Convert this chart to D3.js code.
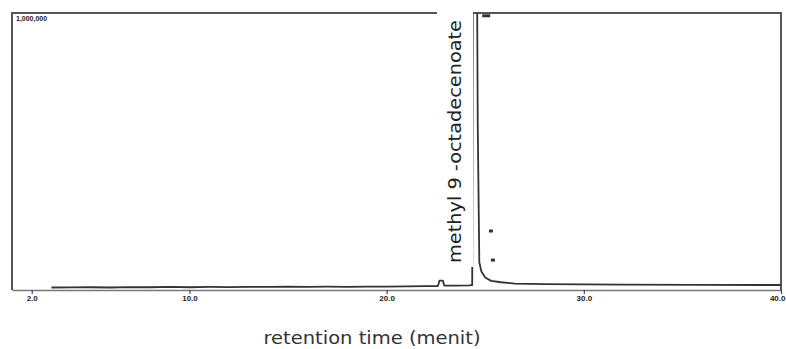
<!DOCTYPE html>
<html>
<head>
<meta charset="utf-8">
<script src="https://cdn.jsdelivr.net/npm/d3@7/dist/d3.min.js"></script>
<style>
  html, body { margin: 0; padding: 0; background: #fff; }
  svg { display: block; }
</style>
</head>
<body>
<svg id="chart" width="786" height="349"></svg>
<script>
// Chromatogram trace: retention time (minutes) and detector signal
const timeMin = [3.0, 4.0, 5.0, 6.0, 7.0, 8.0, 9.0, 10.0, 11.0, 12.0, 13.0, 14.0, 15.0, 16.0,
  17.0, 18.0, 19.0, 20.0, 21.0, 22.0, 22.6, 22.68, 22.85, 22.92, 23.5, 24.2, 24.34,
  24.38, 24.56, 24.62, 24.7, 24.8, 25.0, 25.3, 25.8, 26.5, 28.0, 32.0, 36.0, 40.0];
const signal = [9000, 9500, 10000, 9000, 10500, 10000, 11000, 10000, 11000, 10500, 11500, 11000, 12000, 11000,
  12000, 11500, 12500, 12000, 13000, 14000, 14000, 34000, 34000, 16000, 16000, 17000, 18000,
  1500000, 1500000, 600000, 100000, 68000, 45000, 33000, 28000, 23000, 21000, 19500, 18500, 18000];

// Small peak markers
const markerTime = [25.05, 25.29, 25.39];
const markerSignal = [990000, 213000, 108000];
const markerWidth = [8, 4, 4];

// Axis ticks
const tickValues = [2, 10, 20, 30, 40];
const tickLabels = ["2.0", "10.0", "20.0", "30.0", "40.0"];

const peakLabel = "methyl 9 -octadecenoate";
const peakTime = 24.38;
const scaleLabel = "1,000,000";
const xTitle = "retention time (menit)";

const svg = d3.select("#chart");
const frame = { left: 12, right: 781, top: 13, bottom: 290 };

const x = d3.scaleLinear().domain([1, 40]).range([frame.left, frame.right]);
const y = d3.scaleLinear().domain([0, 1000000]).range([frame.bottom, frame.top]);

svg.append("clipPath").attr("id", "plot-clip")
  .append("rect")
  .attr("x", frame.left).attr("y", frame.top)
  .attr("width", frame.right - frame.left).attr("height", frame.bottom - frame.top);

// Bottom axis with ticks
const xAxis = d3.axisBottom(x)
  .tickValues(tickValues)
  .tickFormat((d, i) => tickLabels[i])
  .tickSize(4)
  .tickSizeOuter(0);

const axisG = svg.append("g")
  .attr("transform", `translate(0,${frame.bottom})`)
  .call(xAxis);
axisG.select(".domain").attr("stroke", "#777").attr("stroke-width", 1.4);
axisG.selectAll(".tick line").attr("stroke", "#444").attr("stroke-width", 1.2);
axisG.selectAll(".tick text")
  .attr("fill", "#222")
  .attr("font-family", "Liberation Sans, Arial, sans-serif")
  .attr("font-weight", "bold")
  .attr("font-size", 8)
  .attr("dy", "0.5em");
// the last label sits against the right edge of the page
axisG.selectAll(".tick text")
  .filter((d, i, n) => i === n.length - 1)
  .attr("text-anchor", "end")
  .attr("x", 4);

// Frame top, left and right edges
svg.append("path")
  .attr("d", `M${frame.left},${frame.bottom} V${frame.top} H${frame.right} V${frame.bottom}`)
  .attr("fill", "none")
  .attr("stroke", "#555")
  .attr("stroke-width", 2);

// Trace
const line = d3.line()
  .x((d, i) => x(timeMin[i]))
  .y((d, i) => y(signal[i]));

svg.append("path")
  .datum(signal)
  .attr("clip-path", "url(#plot-clip)")
  .attr("d", line)
  .attr("fill", "none")
  .attr("stroke", "#333")
  .attr("stroke-width", 1.8)
  .attr("stroke-linejoin", "round");

// Peak markers
svg.append("g").selectAll("rect")
  .data(markerTime)
  .join("rect")
  .attr("x", (d, i) => x(d) - markerWidth[i] / 2)
  .attr("y", (d, i) => y(markerSignal[i]) - 1.5)
  .attr("width", (d, i) => markerWidth[i])
  .attr("height", 3)
  .attr("fill", "#333");

// Peak label, rotated, on a white band
const labelX = x(peakTime) - 18;
const labelG = svg.append("g")
  .attr("transform", `translate(${labelX},${frame.top + 4}) rotate(-90)`);
labelG.append("rect")
  .attr("x", -250).attr("y", -18)
  .attr("width", 258).attr("height", 36)
  .attr("fill", "#fff");
labelG.append("text")
  .attr("x", -3)
  .attr("y", 0)
  .attr("dy", "0.35em")
  .attr("text-anchor", "end")
  .attr("font-family", "DejaVu Sans, Verdana, sans-serif")
  .attr("font-size", 17.5)
  .attr("fill", "#222")
  .attr("textLength", 243)
  .attr("lengthAdjust", "spacingAndGlyphs")
  .text(peakLabel);

// Full-scale label in the corner
svg.append("text")
  .attr("x", frame.left + 4)
  .attr("y", frame.top + 8)
  .attr("font-family", "Liberation Sans, Arial, sans-serif")
  .attr("font-weight", "bold")
  .attr("font-size", 7)
  .attr("fill", "#222")
  .text(scaleLabel);

// Axis title
svg.append("text")
  .attr("x", 372)
  .attr("y", 344)
  .attr("text-anchor", "middle")
  .attr("font-family", "DejaVu Sans, Verdana, sans-serif")
  .attr("font-size", 17.5)
  .attr("fill", "#333")
  .attr("textLength", 217)
  .attr("lengthAdjust", "spacingAndGlyphs")
  .text(xTitle);
</script>
</body>
</html>
